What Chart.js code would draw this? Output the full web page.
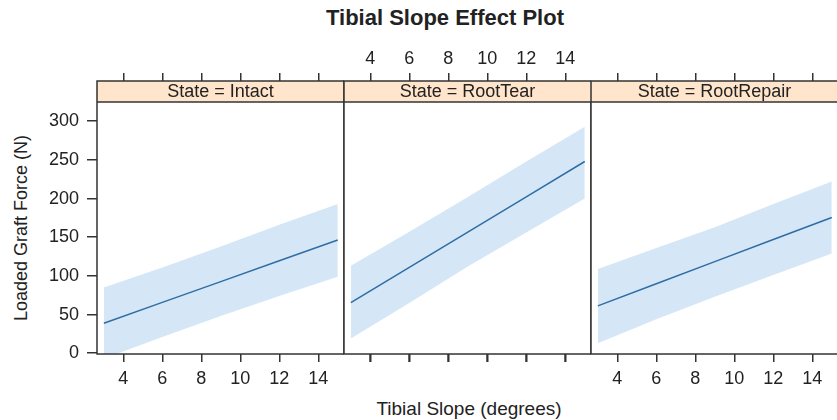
<!DOCTYPE html>
<html>
<head>
<meta charset="utf-8">
<title>Tibial Slope Effect Plot</title>
<script src="https://cdn.jsdelivr.net/npm/chart.js@4.4.0/dist/chart.umd.min.js"></script>
<style>
  body { margin: 0; background: #fff; overflow: hidden; }
  #wrap { position: relative; width: 837px; height: 420px; overflow: hidden;
          font-family: 'Liberation Sans', Arial, sans-serif; color: #222; }
  canvas { position: absolute; top: 0; }
  #c0 { z-index: 2; }
  #c1 { z-index: 10; }
  #c2 { z-index: 3; }
  .txt { position: absolute; white-space: nowrap; z-index: 1; pointer-events: none; }
</style>
</head>
<body>
<div id="wrap">
  <div class="txt" style="left:445px; top:5px; transform:translateX(-50%); font-size:22px; font-weight:bold; line-height:26px;">Tibial Slope Effect Plot</div>
  <div class="txt" style="left:469px; top:398px; transform:translateX(-50%); font-size:19px; line-height:22px;">Tibial Slope (degrees)</div>
  <div class="txt" style="left:21px; top:228px; transform:translate(-50%,-50%) rotate(-90deg); font-size:18px; line-height:20px;">Loaded Graft Force (N)</div>
  <canvas id="c0" width="344" height="420" style="left:0px"></canvas>
  <canvas id="c2" width="257" height="420" style="left:581px"></canvas>
  <canvas id="c1" width="257" height="420" style="left:334px"></canvas>
</div>
<script>
// values (x = tibial slope, y = loaded graft force)
const tibialSlope = [3, 6, 9, 12, 15];
const states = ['Intact', 'RootTear', 'RootRepair'];

const fitIntact = [38.8, 65.7, 92.6, 119.6, 146.5];
const upperIntact = [85, 111, 138, 166, 193];
const lowerIntact = [-7, 21, 48, 74, 99];

const fitRootTear = [65.5, 111.0, 156.7, 202.3, 247.9];
const upperRootTear = [113, 157, 202, 248, 293];
const lowerRootTear = [19, 65, 112, 156, 200];

const fitRootRepair = [61.2, 89.8, 118.4, 147.0, 175.5];
const upperRootRepair = [109, 136, 163, 193, 222];
const lowerRootRepair = [13, 44, 73, 101, 129];

const xTicks = [4, 6, 8, 10, 12, 14];
const yTicks = [0, 50, 100, 150, 200, 250, 300];

const xMin = 2.65, xMax = 15.32;
const yMin = -1, yMax = 352;

const fontFamily = "'Liberation Sans', Arial, sans-serif";
const inkColor = '#222';
const frameColor = '#333';
const lineColor = '#2e6da4';
const bandColor = '#d5e7f7';
const stripH = 21;

const panels = [
  { id: 'c0', state: states[0], fit: fitIntact, upper: upperIntact, lower: lowerIntact, showY: true, padLeft: 0, topLabels: false, bottomLabels: true },
  { id: 'c1', state: states[1], fit: fitRootTear, upper: upperRootTear, lower: lowerRootTear, showY: false, padLeft: 10, topLabels: true, bottomLabels: false },
  { id: 'c2', state: states[2], fit: fitRootRepair, upper: upperRootRepair, lower: lowerRootRepair, showY: false, padLeft: 10, topLabels: false, bottomLabels: true },
];

// strip header + panel box, lattice style
const panelStrip = {
  id: 'panelStrip',
  afterDatasetsDraw(chart, args, opts) {
    const { ctx, chartArea: a } = chart;
    ctx.save();
    ctx.fillStyle = '#ffe5cc';
    ctx.fillRect(a.left, a.top, a.right - a.left, stripH);
    ctx.strokeStyle = frameColor;
    ctx.lineWidth = 1.5;
    ctx.beginPath();
    ctx.moveTo(a.left, a.top + stripH);
    ctx.lineTo(a.right, a.top + stripH);
    ctx.stroke();
    ctx.strokeRect(a.left, a.top, a.right - a.left, a.bottom - a.top);
    ctx.fillStyle = inkColor;
    ctx.font = '18px ' + fontFamily;
    ctx.textAlign = 'center';
    ctx.textBaseline = 'middle';
    ctx.fillText(opts.label, (a.left + a.right) / 2, a.top + stripH / 2 + 1);
    ctx.restore();
  },
  // tick marks of the unlabelled bottom axis, at the scale's own tick pixels
  afterDraw(chart, args, opts) {
    if (!opts.redrawBottomTicks) return;
    const sx = chart.scales.x;
    const ctx = chart.ctx;
    ctx.save();
    ctx.fillStyle = frameColor;
    xTicks.forEach(v => {
      const px = Math.round(sx.getPixelForValue(v));
      ctx.fillRect(px - 0.75, sx.top, 1.5, 8);
    });
    ctx.restore();
  }
};

const pts = arr => tibialSlope.map((x, i) => ({ x: x, y: arr[i] }));

const tickGrid = () => ({ display: true, drawOnChartArea: false, drawTicks: true, tickLength: 8, color: frameColor, lineWidth: 1.5 });
const blank = () => '';

panels.forEach(p => {
  new Chart(document.getElementById(p.id), {
    type: 'line',
    data: {
      datasets: [
        { data: pts(p.fit), borderColor: lineColor, borderWidth: 1.5, pointRadius: 0, fill: false, tension: 0 },
        { data: pts(p.upper), borderWidth: 0, pointRadius: 0, fill: '+1', backgroundColor: bandColor },
        { data: pts(p.lower), borderWidth: 0, pointRadius: 0, fill: false },
      ]
    },
    options: {
      responsive: false,
      animation: false,
      devicePixelRatio: 1,
      layout: { padding: { left: p.padLeft, right: 0, top: 0, bottom: 0 } },
      plugins: {
        legend: { display: false },
        tooltip: { enabled: false },
        panelStrip: { label: 'State = ' + p.state, redrawBottomTicks: !p.bottomLabels }
      },
      scales: {
        x: {
          type: 'linear', position: 'bottom', min: xMin, max: xMax,
          afterBuildTicks: s => { s.ticks = xTicks.map(v => ({ value: v })); },
          afterFit: s => { s.height = 66; },
          grid: tickGrid(),
          border: { display: false },
          ticks: Object.assign({ padding: 6, color: inkColor, font: { size: 18, family: fontFamily } }, p.bottomLabels ? {} : { callback: blank })
        },
        xTop: {
          type: 'linear', position: 'top', min: xMin, max: xMax,
          afterBuildTicks: s => { s.ticks = xTicks.map(v => ({ value: v })); },
          afterFit: s => { s.height = 81; },
          grid: tickGrid(),
          border: { display: false },
          ticks: Object.assign({ padding: 3, color: inkColor, font: { size: 18, family: fontFamily } }, p.topLabels ? {} : { callback: blank })
        },
        y: {
          display: p.showY, min: yMin, max: yMax,
          afterBuildTicks: s => { s.ticks = yTicks.map(v => ({ value: v })); },
          afterFit: s => { s.width = p.showY ? 97 : 0; },
          grid: Object.assign(tickGrid(), { tickLength: 10 }),
          border: { display: false },
          ticks: { padding: 8, color: inkColor, font: { size: 18, family: fontFamily } }
        }
      }
    },
    plugins: [panelStrip]
  });
});
</script>
</body>
</html>
